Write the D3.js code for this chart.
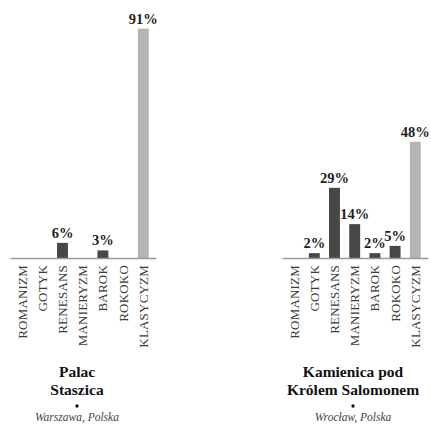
<!DOCTYPE html>
<html>
<head>
<meta charset="utf-8">
<script src="https://cdn.jsdelivr.net/npm/d3@7"></script>
<style>
  html, body { margin: 0; padding: 0; background: #fff; }
  svg { display: block; }
</style>
</head>
<body>
<svg id="chart" width="431" height="424"></svg>
<script>
// Architectural styles, in chronological order
const styles = ["ROMANIZM", "GOTYK", "RENESANS", "MANIERYZM", "BAROK", "ROKOKO", "KLASYCYZM"];

// Share of each style in the building (percent); 0 = style absent
const palacStaszica = [0, 0, 6, 0, 3, 0, 91];
const kamienicaPodKrolem = [0, 2, 29, 14, 2, 5, 48];

// Building names (two lines) and locations
const titles = [["Palac", "Staszica"], ["Kamienica pod", "Królem Salomonem"]];
const places = ["Warszawa, Polska", "Wrocław, Polska"];
const series = [palacStaszica, kamienicaPodKrolem];

// Panel layout
const panels = [
  { x0: 12, titleX: 77, pxPerPct: 2.52 },
  { x0: 284, titleX: 353, pxPerPct: 2.42 }
];
const baseline = 258;
const bandWidth = 141.4;

const svg = d3.select("#chart");
const serif = "'Liberation Serif', 'DejaVu Serif', serif";

panels.forEach((p, i) => {
  const values = series[i];
  const g = svg.append("g");

  const x = d3.scaleBand()
    .domain(styles)
    .range([p.x0, p.x0 + bandWidth])
    .paddingInner(0.46)
    .paddingOuter(0.23);

  const y = d3.scaleLinear()
    .domain([0, 100])
    .range([baseline, baseline - 100 * p.pxPerPct]);

  const rows = styles.map((s, k) => ({ style: s, value: values[k] }));

  // bars
  g.selectAll("rect.bar")
    .data(rows.filter(d => d.value > 0))
    .join("rect")
    .attr("class", "bar")
    .attr("x", d => x(d.style))
    .attr("width", x.bandwidth())
    .attr("y", d => y(d.value))
    .attr("height", d => y(0) - y(d.value))
    .attr("fill", d => d.style === "KLASYCYZM" ? "#b4b4b4" : "#474747");

  // value labels
  g.selectAll("text.val")
    .data(rows.filter(d => d.value > 0))
    .join("text")
    .attr("class", "val")
    .attr("x", d => x(d.style) + x.bandwidth() / 2)
    .attr("y", d => y(d.value) - 5)
    .attr("text-anchor", "middle")
    .style("font-family", serif)
    .style("font-weight", "bold")
    .style("font-size", "14.5px")
    .style("fill", "#1e1e1e")
    .text(d => d.value + "%");

  // baseline axis
  g.append("line")
    .attr("x1", p.x0 - 1.5)
    .attr("x2", p.x0 + bandWidth + 3)
    .attr("y1", y(0) + 0.5)
    .attr("y2", y(0) + 0.5)
    .attr("stroke", "#9a9a9a")
    .attr("stroke-width", 1.6);

  // category labels, rotated
  g.selectAll("text.cat")
    .data(styles)
    .join("text")
    .attr("class", "cat")
    .attr("transform", d => `translate(${x(d) + x.bandwidth() / 2},${baseline + 7}) rotate(-90)`)
    .attr("dy", "0.35em")
    .attr("text-anchor", "end")
    .style("font-family", serif)
    .style("font-size", "13px")
    .style("letter-spacing", "0.2px")
    .style("fill", "#3a3a3a")
    .text(d => d);

  // building name
  const t = g.append("text")
    .attr("text-anchor", "middle")
    .style("font-family", serif)
    .style("font-weight", "bold")
    .style("font-size", "15.5px")
    .style("fill", "#111");
  titles[i].forEach((line, k) => {
    t.append("tspan")
      .attr("x", p.titleX)
      .attr("y", 377 + k * 18)
      .text(line);
  });

  // separator dot
  g.append("circle")
    .attr("cx", p.titleX)
    .attr("cy", 406)
    .attr("r", 1.7)
    .attr("fill", "#111");

  // location
  g.append("text")
    .attr("x", p.titleX)
    .attr("y", 421)
    .attr("text-anchor", "middle")
    .style("font-family", serif)
    .style("font-style", "italic")
    .style("font-size", "11.5px")
    .style("fill", "#444")
    .text(places[i]);
});
</script>
</body>
</html>
